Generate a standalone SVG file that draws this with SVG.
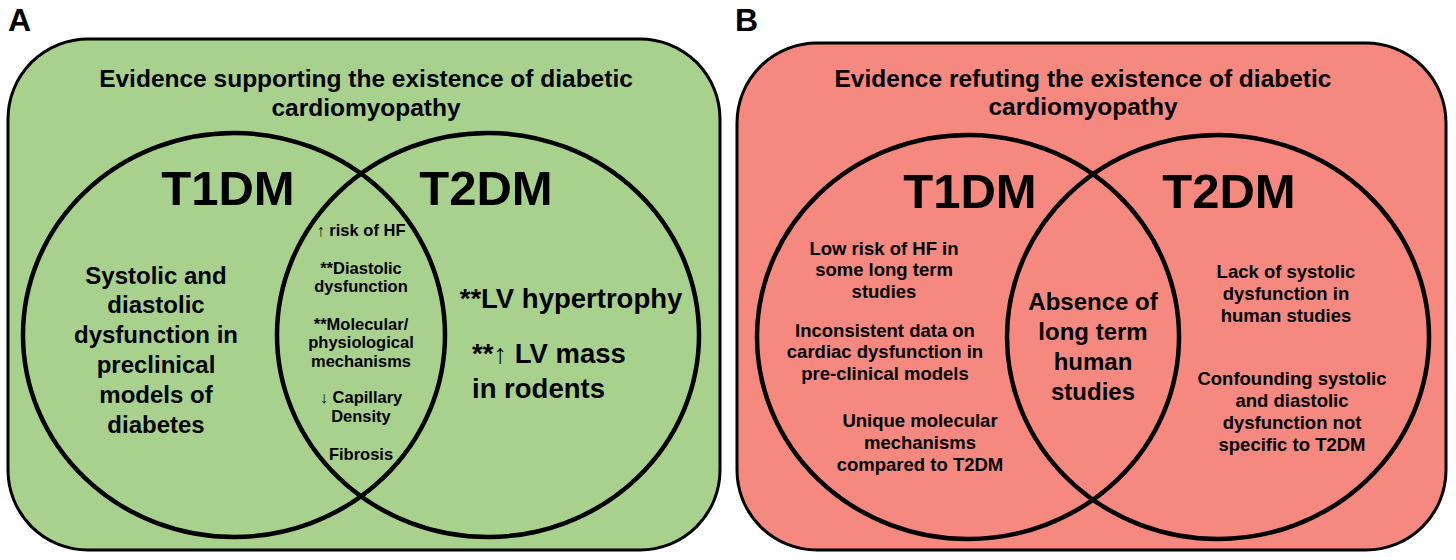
<svg xmlns="http://www.w3.org/2000/svg" width="1456" height="560" viewBox="0 0 1456 560">
<style>
text{font-family:"Liberation Sans",Arial,sans-serif;font-weight:bold;fill:#000;text-anchor:middle}
.lbl{font-size:32px;text-anchor:start}
.ttl{font-size:24.5px}
.big{font-size:49px}
.mid{font-size:24px}
.lg{font-size:27.5px}
.sm{font-size:16.5px}
.bs{font-size:18.5px}
.st{text-anchor:start}
.arr{font-weight:normal}
.panel{stroke:#000;stroke-width:3}
.ring{fill:none;stroke:#000;stroke-width:4.5}
</style>
<rect width="1456" height="560" fill="#fff"/>
<g id="panelA">
<text class="lbl" x="8" y="31">A</text>
<rect class="panel" x="8" y="39" width="712" height="511" rx="80" ry="80" fill="#a9d18e"/>
<text class="ttl" x="366" y="87">Evidence supporting the existence of diabetic</text>
<text class="ttl" x="366" y="116">cardiomyopathy</text>
</g>
<g id="A_T1DM">
<ellipse class="ring" cx="234" cy="335" rx="211" ry="202"/>
<text class="big" x="228" y="205">T1DM</text>
<text class="mid" x="156" y="284">Systolic and</text>
<text class="mid" x="156" y="313">diastolic</text>
<text class="mid" x="156" y="343">dysfunction in</text>
<text class="mid" x="156" y="373">preclinical</text>
<text class="mid" x="156" y="403">models of</text>
<text class="mid" x="156" y="433">diabetes</text>
</g>
<g id="A_T2DM">
<ellipse class="ring" cx="488" cy="335" rx="211" ry="202"/>
<text class="big" x="486" y="205">T2DM</text>
<text class="lg" x="571" y="308">**LV hypertrophy</text>
<text class="lg st" x="472" y="363">**<tspan class="arr">↑</tspan> LV mass</text>
<text class="lg st" x="472" y="398">in rodents</text>
</g>
<g id="A_overlap">
<text class="sm" x="361" y="236"><tspan class="arr">↑</tspan> risk of HF</text>
<text class="sm" x="361" y="274">**Diastolic</text>
<text class="sm" x="361" y="292">dysfunction</text>
<text class="sm" x="361" y="330">**Molecular/</text>
<text class="sm" x="361" y="348">physiological</text>
<text class="sm" x="361" y="367">mechanisms</text>
<text class="sm" x="361" y="403"><tspan class="arr">↓</tspan> Capillary</text>
<text class="sm" x="361" y="422">Density</text>
<text class="sm" x="361" y="460">Fibrosis</text>
</g>
<g id="panelB">
<text class="lbl" x="735" y="31">B</text>
<rect class="panel" x="737" y="43" width="709" height="507" rx="80" ry="80" fill="#f5897f"/>
<text class="ttl" x="1083" y="87">Evidence refuting the existence of diabetic</text>
<text class="ttl" x="1083" y="115">cardiomyopathy</text>
</g>
<g id="B_T1DM">
<ellipse class="ring" cx="968" cy="337" rx="211" ry="202"/>
<text class="big" x="970" y="208">T1DM</text>
<text class="bs" x="884" y="255">Low risk of HF in</text>
<text class="bs" x="884" y="276">some long term</text>
<text class="bs" x="884" y="298">studies</text>
<text class="bs" x="885" y="337">Inconsistent data on</text>
<text class="bs" x="885" y="358">cardiac dysfunction in</text>
<text class="bs" x="885" y="380">pre-clinical models</text>
<text class="bs" x="920" y="427">Unique molecular</text>
<text class="bs" x="920" y="449">mechanisms</text>
<text class="bs" x="920" y="471">compared to T2DM</text>
</g>
<g id="B_T2DM">
<ellipse class="ring" cx="1218" cy="337" rx="211" ry="202"/>
<text class="big" x="1229" y="208">T2DM</text>
<text class="bs" x="1286" y="278">Lack of systolic</text>
<text class="bs" x="1286" y="300">dysfunction in</text>
<text class="bs" x="1286" y="322">human studies</text>
<text class="bs" x="1292" y="385">Confounding systolic</text>
<text class="bs" x="1292" y="407">and diastolic</text>
<text class="bs" x="1292" y="429">dysfunction not</text>
<text class="bs" x="1292" y="451">specific to T2DM</text>
</g>
<g id="B_overlap">
<text class="mid" x="1093" y="310">Absence of</text>
<text class="mid" x="1093" y="340">long term</text>
<text class="mid" x="1093" y="370">human</text>
<text class="mid" x="1093" y="400">studies</text>
</g>
<g id="connectors"></g>
</svg>
